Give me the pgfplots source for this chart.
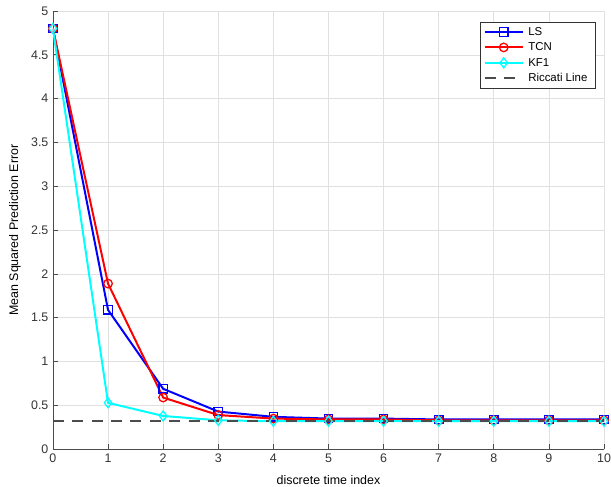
\documentclass[border=0pt]{standalone}
\usepackage{fontspec}
\setmainfont{Liberation Sans}
\usepackage{pgfplots}
\pgfplotsset{compat=1.18}
\definecolor{lsblue}{rgb}{0,0,1}
\definecolor{tcnred}{rgb}{1,0,0}
\definecolor{kfcyan}{rgb}{0,1,1}
\begin{document}
\begin{tikzpicture}[font=\fontsize{12.5}{14}\selectfont]
\begin{axis}[
    scale only axis,
    width=552bp, height=439bp,
    xmin=0, xmax=10, ymin=0, ymax=5,
    xtick={0,...,10},
    ytick={0,0.5,...,5},
    yticklabels={0,0.5,1,1.5,2,2.5,3,3.5,4,4.5,5},
    /pgf/number format/assume math mode=true,
    axis lines*=left,
    axis line style={draw=black!70, line width=0.7pt},
    tick style={draw=black!70, line width=0.7pt},
    tick align=inside,
    major tick length=5pt,
    grid=major,
    grid style={draw=black!12, line width=0.6pt},
    ticklabel style={text=black!80},
    yticklabel style={xshift=-1pt},
    xticklabel style={yshift=-1pt},
    xlabel={discrete time index},
    ylabel={Mean Squared Prediction Error},
    label style={text=black!85, font=\fontsize{13.8}{15}\selectfont},
    every axis x label/.style={at={(rel axis cs:0.5,0)}, anchor=base, yshift=-35bp},
    every axis y label/.style={at={(rel axis cs:0,0.5)}, xshift=-38bp, anchor=center, rotate=90},
    legend style={at={(rel axis cs:0.984,0.975)}, anchor=north east,
        draw=black!80, fill=white, font=\fontsize{11.5}{13}\selectfont,
        row sep=2pt, inner sep=3pt, line width=0.7pt,
        nodes={inner xsep=4.5pt}},
    legend cell align=left,
    legend image code/.code={
        \draw[mark repeat=2,mark phase=2] plot coordinates {(0cm,0cm) (0.67cm,0cm) (1.34cm,0cm)};},
    every axis plot/.append style={line width=2pt},
]
\addplot[lsblue, mark=square, mark size=4.2pt, mark options={line width=1.3pt}] coordinates {
    (0,4.8) (1,1.59) (2,0.69) (3,0.43) (4,0.37) (5,0.35) (6,0.35) (7,0.34) (8,0.34) (9,0.34) (10,0.34)
};
\addplot[tcnred, mark=o, mark size=4.3pt, mark options={line width=1.3pt}] coordinates {
    (0,4.8) (1,1.89) (2,0.59) (3,0.39) (4,0.35) (5,0.34) (6,0.34) (7,0.33) (8,0.33) (9,0.33) (10,0.33)
};
\addplot[kfcyan, mark=diamond, mark size=5pt, mark options={line width=1.3pt}] coordinates {
    (0,4.8) (1,0.53) (2,0.38) (3,0.33) (4,0.32) (5,0.32) (6,0.32) (7,0.32) (8,0.32) (9,0.32) (10,0.32)
};
\addplot[black!70, dash pattern=on 11pt off 8.5pt, line width=2.2pt] coordinates {
    (0,0.32) (10,0.32)
};
\legend{LS, TCN, KF1, Riccati Line}
\end{axis}
\pgfresetboundingbox
\path ([shift={(-53bp,-37bp)}]current axis.south west) rectangle ([shift={(7bp,11bp)}]current axis.north east);
\end{tikzpicture}
\end{document}
